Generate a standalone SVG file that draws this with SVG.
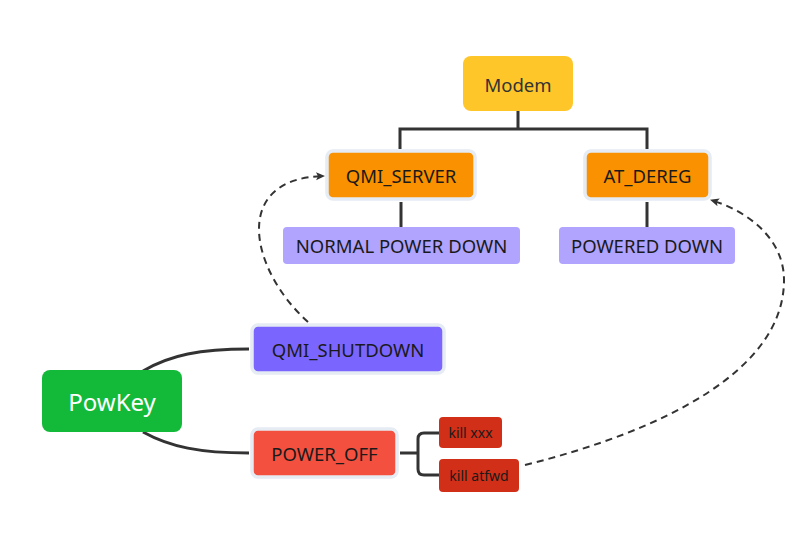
<svg xmlns="http://www.w3.org/2000/svg" width="802" height="539" viewBox="0 0 802 539">
<style>
.t{font-family:"Noto Sans","Open Sans","Liberation Sans",sans-serif;text-anchor:middle;dominant-baseline:central;fill:#1a1a1a}
.ln{fill:none;stroke:#333;stroke-width:3}
.dash{fill:none;stroke:#333;stroke-width:2;stroke-dasharray:7 5}
.bd{stroke:#e6ecf3;stroke-width:3.5}
</style>
<defs>
<marker id="arr" markerWidth="10" markerHeight="10" refX="8" refY="5" orient="auto" markerUnits="userSpaceOnUse">
<path d="M0,1 L9,5 L0,9 L2,5 z" fill="#333"/>
</marker>
</defs>
<rect width="802" height="539" fill="#fff"/>
<g id="connectors">
<path class="ln" d="M518,111 V129 M400,149 V129 H647 V149"/>
<path class="ln" d="M401,202 V227"/>
<path class="ln" d="M647,202 V227"/>
<path class="ln" d="M143,371 C170,355 200,349 249,349"/>
<path class="ln" d="M143,432 C170,447 200,453 249,453"/>
<path class="ln" d="M400,453 H418 M439,433 H424 Q418,433 418,439 V469 Q418,475 424,475 H439"/>
<path class="dash" d="M308,322 C250,270 230,178 324,176" marker-end="url(#arr)"/>
<path class="dash" d="M525,465 C665,430 784,370 784,280 C784,240 750,212 711,200" marker-end="url(#arr)"/>
</g>
<g id="modem"><rect x="463" y="56" width="110" height="55" rx="8" fill="#FFC62A"/><text class="t" x="518" y="84" font-size="18.5" style="fill:#333">Modem</text></g>
<g id="qmi_server"><rect class="bd" x="327" y="151" width="148" height="48" rx="6" fill="#FA9100"/><text class="t" x="401" y="175" font-size="18.5">QMI_SERVER</text></g>
<g id="at_dereg"><rect class="bd" x="585" y="151" width="125" height="48" rx="6" fill="#FA9100"/><text class="t" x="647.5" y="175" font-size="18.5">AT_DEREG</text></g>
<g id="normal_power_down"><rect x="283" y="227" width="237" height="37" rx="4" fill="#B0A4FF"/><text class="t" x="401.5" y="245.5" font-size="18.5">NORMAL POWER DOWN</text></g>
<g id="powered_down"><rect x="559" y="227" width="176" height="37" rx="4" fill="#B0A4FF"/><text class="t" x="647" y="245.5" font-size="18.5">POWERED DOWN</text></g>
<g id="qmi_shutdown"><rect class="bd" x="252" y="325" width="192" height="48" rx="6" fill="#7A66FF"/><text class="t" x="348" y="349" font-size="18.5">QMI_SHUTDOWN</text></g>
<g id="powkey"><rect x="42" y="370" width="140" height="62" rx="8" fill="#13BA3A"/><text class="t" x="112" y="401" font-size="24" style="fill:#fff">PowKey</text></g>
<g id="power_off"><rect class="bd" x="252" y="429" width="145" height="48" rx="6" fill="#F4503F"/><text class="t" x="324.5" y="453" font-size="18.5">POWER_OFF</text></g>
<g id="kill_xxx"><rect x="439" y="417" width="63" height="31" rx="4" fill="#D12F17"/><text class="t" x="470.5" y="432.5" font-size="14">kill xxx</text></g>
<g id="kill_atfwd"><rect x="439" y="459" width="80" height="33" rx="4" fill="#D12F17"/><text class="t" x="479" y="475.5" font-size="14">kill atfwd</text></g>
</svg>
